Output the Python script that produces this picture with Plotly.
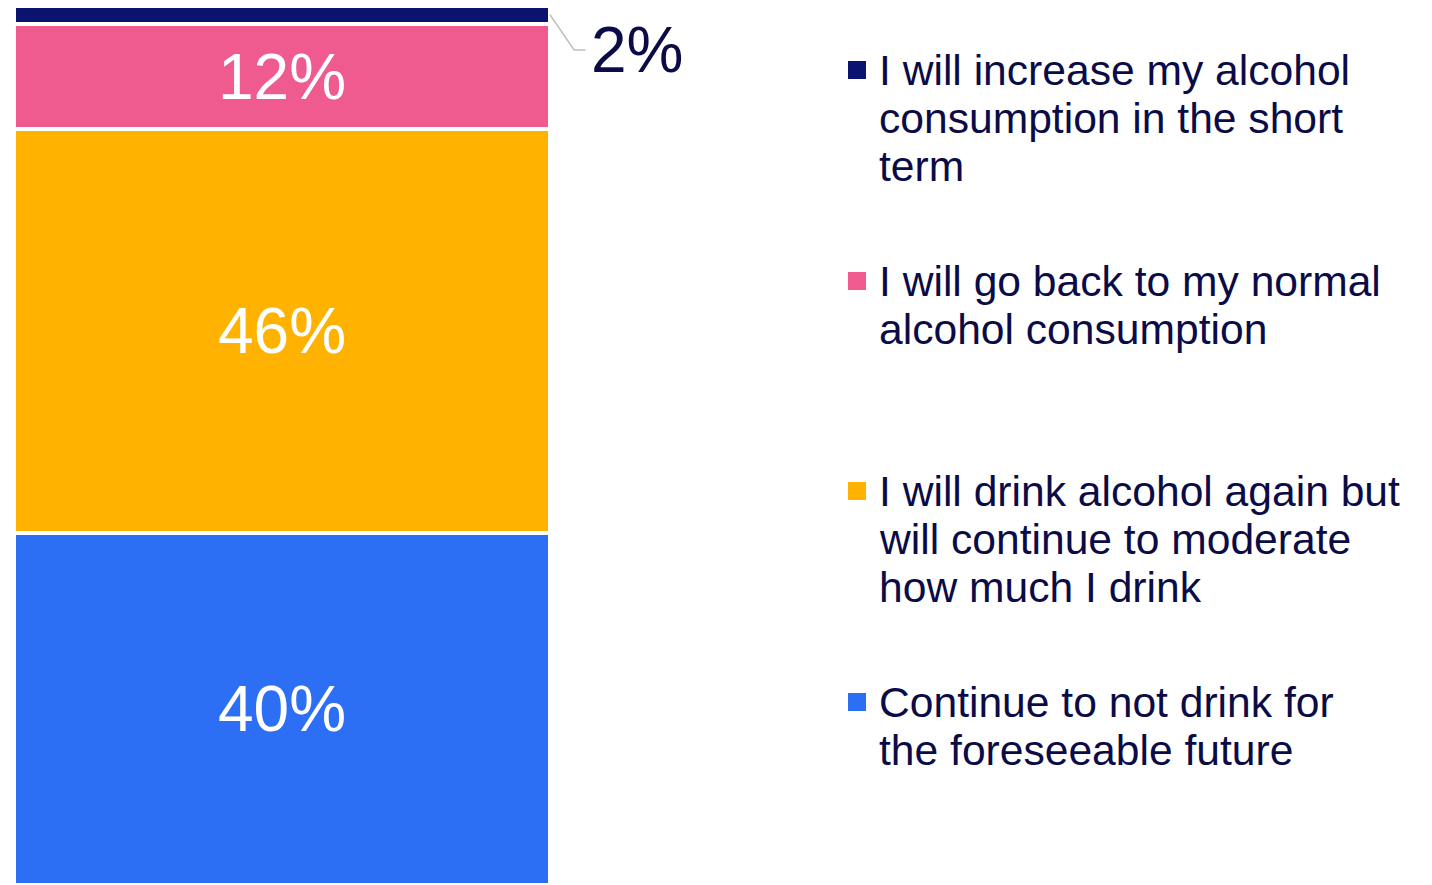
import plotly.graph_objects as go

# Survey answers, stacked bottom to top
categories = [
    "Continue to not drink for<br>the foreseeable future",
    "I will drink alcohol again but<br>will continue to moderate<br>how much I drink",
    "I will go back to my normal<br>alcohol consumption",
    "I will increase my alcohol<br>consumption in the short<br>term",
]
shares = [40, 46, 12, 2]
colors = ["#2C6EF4", "#FFB300", "#EF5A8F", "#0B1370"]

TEXT_NAVY = "#0B0C47"
FONT = "Liberation Sans, Arial, sans-serif"
W, H = 1432, 885
TOP = 6  # top margin in px


def px_x(p):
    return p / W


def px_y(p):
    # paper y for a pixel row (plot area spans TOP..H)
    return (H - p) / (H - TOP)


fig = go.Figure()
for cat, val, col in zip(categories, shares, colors):
    inside = val >= 5
    fig.add_trace(go.Bar(
        x=[0], y=[val], width=1, name=cat.replace("<br>", " "),
        marker=dict(color=col, line=dict(color="white", width=4)),
        text=[f"{val}%"] if inside else None,
        textposition="inside", insidetextanchor="middle", textangle=0,
        textfont=dict(family=FONT, size=64, color="white"),
        constraintext="none", showlegend=False, hoverinfo="skip",
    ))

# Small top segment: label outside with a bent leader line
top_val = shares[-1]
top_mid = sum(shares[:-1]) + top_val / 2
elbow_y = 95
fig.add_shape(type="path",
              path=f"M 0.5,{top_mid} L 0.545,{elbow_y} L 0.566,{elbow_y}",
              xref="x", yref="y", line=dict(color="#BFBFBF", width=1.5))
fig.add_annotation(x=0.573, y=elbow_y, xref="x", yref="y",
                   text=f"{top_val}%", showarrow=False,
                   xanchor="left", yanchor="middle",
                   font=dict(family=FONT, size=64, color=TEXT_NAVY))

# Legend drawn on the right, top entry first
entry_rows = [70, 281, 491, 702]
line_gap = 48
for row, cat, col in zip(entry_rows, categories[::-1], colors[::-1]):
    fig.add_shape(type="rect", xref="paper", yref="paper",
                  x0=px_x(848), x1=px_x(866),
                  y0=px_y(row + 9), y1=px_y(row - 9),
                  fillcolor=col, line=dict(width=0))
    for i, line in enumerate(cat.split("<br>")):
        fig.add_annotation(x=px_x(877), y=px_y(row + i * line_gap),
                           xref="paper", yref="paper", text=line,
                           showarrow=False, xanchor="left", yanchor="middle",
                           font=dict(family=FONT, size=42.6, color=TEXT_NAVY))

fig.update_layout(
    width=W, height=H, barmode="stack", bargap=0,
    margin=dict(l=0, r=0, t=TOP, b=0),
    paper_bgcolor="white", plot_bgcolor="white",
    xaxis=dict(range=[-0.5 - 14 / 536, 0.5 + 882 / 536], visible=False,
               fixedrange=True),
    yaxis=dict(range=[0, 100], visible=False, fixedrange=True),
)

fig.write_html("out.html")
